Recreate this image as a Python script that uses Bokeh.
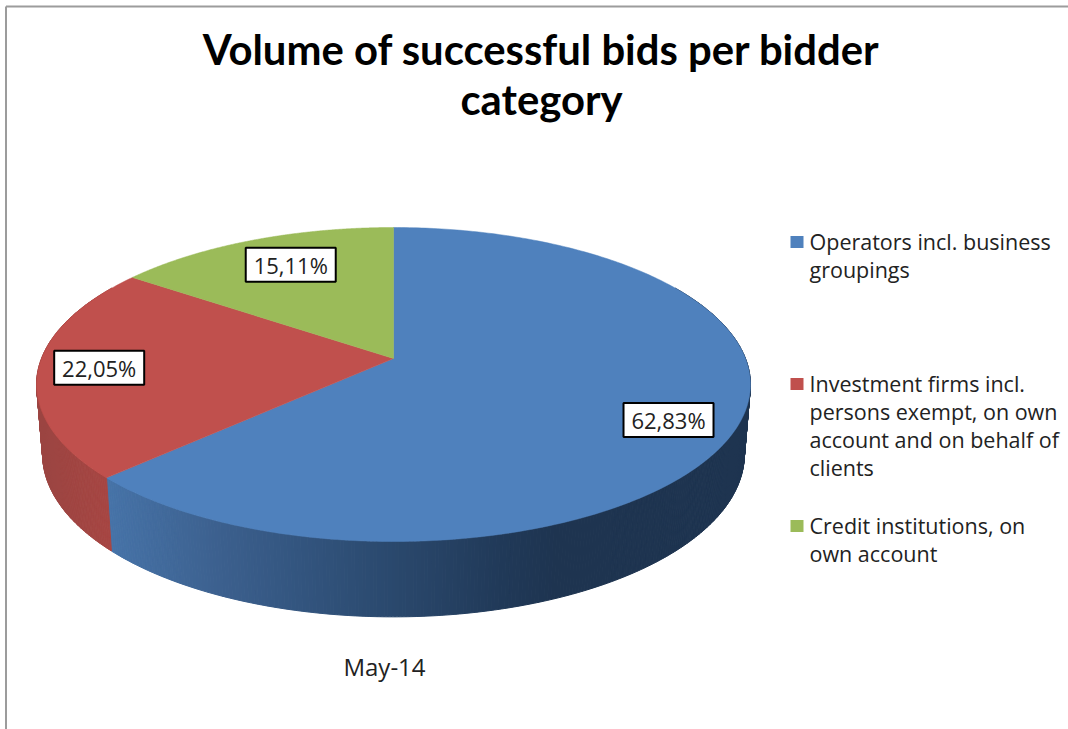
import numpy as np
from bokeh.plotting import figure
from bokeh.models import Range1d
from bokeh.core.properties import value
from bokeh.embed import file_html
from bokeh.resources import INLINE

title_lines = ["Volume of successful bids per bidder", "category"]
categories = [
    ["Operators incl. business", "groupings"],
    ["Investment firms incl.", "persons exempt, on own", "account and on behalf of", "clients"],
    ["Credit institutions, on", "own account"],
]
shares = [62.83, 22.05, 15.11]
labels = ["62,83%", "22,05%", "15,11%"]
colors = ["#4f81bd", "#c0504d", "#9bbb59"]
x_label = "May-14"

# --- layout and 3D projection of the pie (perspective homography of a circle)
CX, CY = 393.0, 358.0
K = 0.1656
A_TOP, B_TOP = 352.0, 152.7
A_BOT, B_BOT, Y_BOT = 346.0, 158.0, 427.0
LABEL_R = [0.805, 0.83, 0.705]
LABEL_DY = [10.5, 0, -7]
LEGEND_TOPS = [241.5, 383.5, 525.5]
LINE_H = 28


def rim(theta_deg, r=1.0):
    t = np.radians(theta_deg)
    u, v = r * np.sin(t), r * np.cos(t)
    d = 1 + K * v
    return CX + A_TOP * u / d, CY - B_TOP * v / d


def rim_bot(theta_deg):
    t = np.radians(theta_deg)
    u, v = np.sin(t), np.cos(t)
    d = 1 + K * v
    return CX + A_BOT * u / d, Y_BOT - B_BOT * v / d


p = figure(width=1068, height=729, output_backend="svg", toolbar_location=None,
           x_range=Range1d(0, 1068), y_range=Range1d(729, 0), min_border=0,
           outline_line_color=None, background_fill_color="white",
           border_fill_color="white")
p.margin = (0, 0, 0, 0)
p.axis.visible = False
p.grid.visible = False

# chart frame
p.segment([5.5, 5.5], [6, 6], [5.5, 1068], [729, 6], line_color="#9c9c9c", line_width=2)

total = sum(shares)
edges = np.concatenate([[0], np.cumsum(shares)]) / total * 360.0


def blue_side(x):
    stops_x = [100, 220, 300, 400, 500, 560, 760]
    rs = [0x48, 0x3c, 0x33, 0x2a, 0x21, 0x1e, 0x1e]
    gs = [0x75, 0x60, 0x55, 0x48, 0x3a, 0x34, 0x34]
    bs = [0xaa, 0x8e, 0x7f, 0x6c, 0x59, 0x50, 0x50]
    r = np.interp(x, stops_x, rs)
    g = np.interp(x, stops_x, gs)
    b = np.interp(x, stops_x, bs)
    return "#%02x%02x%02x" % (int(r), int(g), int(b))


def red_side(x):
    r = np.interp(x, [40, 110], [0x9c, 0xa8])
    g = np.interp(x, [40, 110], [0x45, 0x47])
    b = np.interp(x, [40, 110], [0x42, 0x44])
    return "#%02x%02x%02x" % (int(r), int(g), int(b))


# side wall, drawn as narrow quads so that the shade changes along the rim
xs, ys, cs = [], [], []
for start, stop, shade in [(60.0, edges[1], blue_side), (edges[1], 300.0, red_side)]:
    ts = np.linspace(start, stop, int(stop - start) * 2 + 2)
    for a, b in zip(ts[:-1], ts[1:]):
        x1, y1 = rim(a)
        x2, y2 = rim(b)
        x3, y3 = rim_bot(b)
        x4, y4 = rim_bot(a)
        xs.append([x1, x2, x3, x4])
        ys.append([y1, y2, y3, y4])
        cs.append(shade((x1 + x2) / 2))
p.patches(xs, ys, fill_color=cs, line_color=cs, line_width=1)

# top faces
for i, c in enumerate(colors):
    stop = edges[i + 1] if i < 2 else 360.0
    ts = np.linspace(edges[i], stop, 300)
    px, py = rim(ts)
    p.patch(np.r_[CX, px], np.r_[CY, py], fill_color=c, line_color=c, line_width=0.5)

# title
for i, t in enumerate(title_lines):
    p.text([541], [48.5 + 50 * i], text=[t], text_font=value("Lato"), text_font_style="bold",
           text_font_size="41.8px", text_align="center", text_baseline="middle",
           text_color="#000000")

# data labels
for i, lab in enumerate(labels):
    mid = (edges[i] + edges[i + 1]) / 2
    lx, ly = rim(mid, LABEL_R[i])
    ly += LABEL_DY[i]
    p.rect([lx], [ly], width=len(lab) * 15.0, height=34, fill_color="white",
           line_color="#000000", line_width=2)
    p.text([lx], [ly + 0.5], text=[lab], text_font=value("Open Sans"), text_font_size="22px",
           text_align="center", text_baseline="middle", text_color="#222222")

# legend
for i, lines in enumerate(categories):
    top = LEGEND_TOPS[i]
    p.rect([796.5], [top], width=13, height=12, fill_color=colors[i], line_color=None)
    for j, line in enumerate(lines):
        p.text([809], [top - 0.5 + j * LINE_H], text=[line], text_font=value("Open Sans"),
               text_font_size="21.5px", text_align="left", text_baseline="middle",
               text_color="#222222")

# category label
p.text([384], [666], text=[x_label], text_font=value("Open Sans"), text_font_size="24px",
       text_align="center", text_baseline="middle", text_color="#222222")

open("out.html", "w").write(file_html(p, INLINE))
